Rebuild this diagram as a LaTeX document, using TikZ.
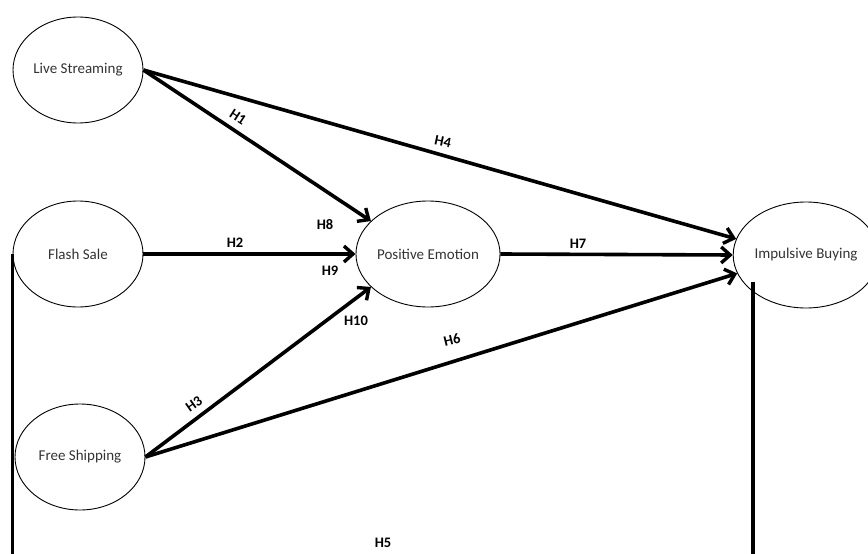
\documentclass[tikz,border=0pt]{standalone}
\usepackage{fontspec}
\setmainfont{Carlito}
\usetikzlibrary{shapes.geometric,arrows.meta}
\begin{document}
\begin{tikzpicture}[x=1pt,y=-1pt,
  construct/.style={ellipse,draw,line width=0.9pt,minimum width=130pt,minimum height=106pt,inner sep=0pt,font=\fontsize{15}{17}\selectfont,text=black!80},
  path/.style={line width=3.6pt,-{Straight Barb[length=9pt,width=16pt,line width=3.4pt]}},
  link/.style={line width=3.6pt},
  hyp/.style={font=\bfseries\fontsize{14.5}{16}\selectfont,inner sep=1pt}]
\useasboundingbox (0,0) rectangle (868,554);
\node[construct] (ls) at (78,70) {Live Streaming};
\node[construct] (fs) at (78,254) {Flash Sale};
\node[construct] (fr) at (80,457) {Free Shipping};
\node[construct] (pe) at (428,254) {Positive Emotion};
\node[construct,minimum width=124pt] (ib) at (806,255) {Impulsive Buying};
\coordinate (bottom) at (0,560);
\coordinate (ibfoot) at ([xshift=-53pt,yshift=-27pt]ib.center);
% direct effects
\draw[path] (ls.east) -- (pe.150);
\draw[path] (ls.east) -- (ib.167);
\draw[path] (fs.east) -- (pe.west);
\draw[path] (fr.east) -- (pe.210);
\draw[path] (fr.east) -- (ib.195);
\draw[path] (pe.east) -- (ib.west);
% flash sale to impulsive buying, routed below
\draw[link] (fs.west) -- (fs.west |- bottom);
\draw[link] (ibfoot) -- (ibfoot |- bottom);
% hypothesis labels
\node[hyp,rotate=-33] (h1) at (238,117) {H1};
\node[hyp,rotate=-12] (h4) at (443,142) {H4};
\node[hyp] (h8) at (325,225) {H8};
\node[hyp] (h2) at (235,243) {H2};
\node[hyp] (h9) at (330,271) {H9};
\node[hyp] (h10) at (356,321) {H10};
\node[hyp,rotate=35] (h3) at (194,404) {H3};
\node[hyp,rotate=14] (h6) at (452,340) {H6};
\node[hyp] (h7) at (578,244) {H7};
\node[hyp] (h5) at (383,543) {H5};
\end{tikzpicture}
\end{document}
